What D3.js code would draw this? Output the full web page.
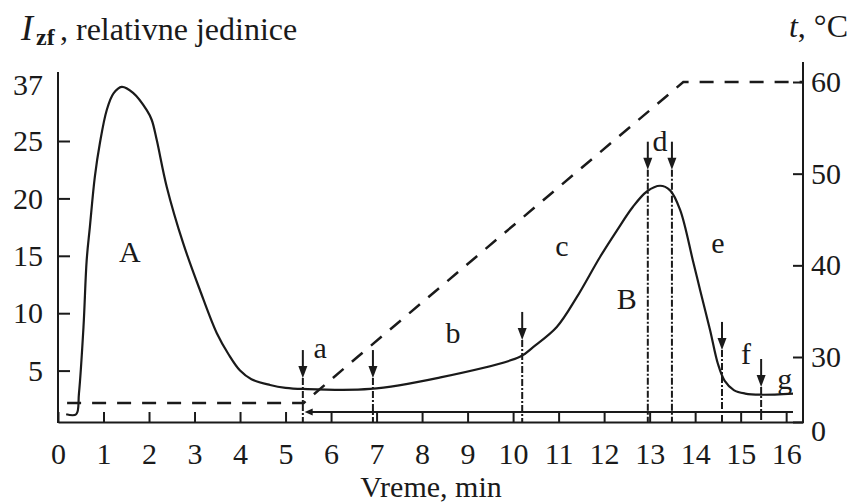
<!DOCTYPE html>
<html>
<head>
<meta charset="utf-8">
<script src="https://cdn.jsdelivr.net/npm/d3@7"></script>
<style>
    body { margin: 0; background: #fff; }
    svg text { font-family: 'Liberation Serif', 'Times New Roman', serif; fill: #1a1a1a; }
</style>
</head>
<body>
<svg id="chart"></svg>
<script>
// intensity curve (time in min, relative units)
const curve_time  = [0.18, 0.40, 0.46, 0.56, 0.63, 0.70, 0.81, 0.92, 1.07, 1.22, 1.40, 1.65, 1.95, 2.06, 2.17, 2.39, 2.75, 3.12, 3.49, 3.75, 4.00, 4.25, 4.66, 5.00, 5.38, 6.86, 8.33, 10.15, 10.44, 10.96, 11.40, 11.91, 12.28, 12.63, 12.94, 13.23, 13.45, 13.67, 13.95, 14.11, 14.33, 14.50, 14.65, 14.85, 15.10, 15.43, 16.15];
const curve_value = [1.2, 1.2, 3.0, 8.8, 14.6, 17.5, 21.9, 24.8, 31.6, 35.2, 36.6, 35.3, 31.6, 29.5, 25.2, 21.0, 16.1, 12.0, 8.25, 6.4, 5.0, 4.25, 3.75, 3.5, 3.4, 3.4, 4.35, 6.2, 7.05, 8.8, 11.4, 14.9, 17.2, 19.25, 20.6, 21.1, 20.7, 19.0, 14.6, 12.0, 8.5, 5.6, 4.1, 3.3, 3.0, 2.9, 3.0];

// temperature program (right axis, degC)
const temp_time  = [0.2, 5.4, 6.58, 13.74, 16.37];
const temp_value = [8.8, 8.8, 30, 60, 60];

// marked moments: arrow position and where the arrow tip sits (left axis units)
const arrow_time = [5.38, 6.92, 10.2, 12.96, 13.49, 14.59, 15.45];
const arrow_tip  = [4.35, 4.35, 7.67, 22.5, 22.5, 6.8, 3.57];

// region letters
const region_text  = ['A', 'a', 'b', 'c', 'd', 'B', 'e', 'f', 'g'];
const region_time  = [1.58, 5.76, 8.68, 11.07, 13.23, 12.5, 14.5, 15.12, 15.97];
const region_value = [15.4, 7.0, 8.3, 15.9, 25.2, 11.3, 16.2, 6.5, 4.35];

// time bar below the curve
const bar_start = 5.42;
const bar_end = 16.15;

// ticks
const bottom_ticks = [0, 1, 2, 3, 4, 5, 6, 7, 8, 9, 10, 11, 12, 13, 14, 15, 16];
const left_ticks = [5, 10, 15, 20, 25, 37];
const right_ticks = [0, 30, 40, 50, 60];

class ProfileChart {

    constructor( config ) {
        this.config = {
            parent: config.parent,
            width: config.width || 850,
            height: config.height || 503,
            fontsize: config.fontsize || '30px'
        }
        this.init();
    }

    init() {
        let self = this;

        self.svg = d3.select( self.config.parent )
            .attr('width', self.config.width)
            .attr('height', self.config.height);

        // plot box
        self.left = 58;
        self.right = 803;
        self.bottom = 422;

        self.xscale = d3.scaleLinear()
            .domain( [0, 16.37] )
            .range( [self.left, self.right] );

        // both y axes are broken in the original figure
        self.yleft = d3.scaleLinear()
            .domain( [0, 25, 37] )
            .range( [428, 141, 85] );

        self.yright = d3.scaleLinear()
            .domain( [0, 30, 60] )
            .range( [self.bottom, 357, 82] );

        self.render();
    }

    render() {
        let self = this;
        const ink = '#1a1a1a';

        // axes
        const xaxis = d3.axisBottom( self.xscale )
            .tickValues( bottom_ticks )
            .tickSizeInner(-10)
            .tickSizeOuter(0)
            .tickPadding(21);

        const laxis = d3.axisLeft( self.yleft )
            .tickValues( left_ticks )
            .tickSizeInner(-12)
            .tickSizeOuter(0)
            .tickPadding(15);

        const raxis = d3.axisRight( self.yright )
            .tickValues( right_ticks )
            .tickSizeInner(-10)
            .tickSizeOuter(0)
            .tickPadding(8);

        const xg = self.svg.append('g')
            .attr('transform', `translate(0, ${self.bottom})`)
            .call( xaxis );

        const lg = self.svg.append('g')
            .attr('transform', `translate(${self.left}, 0)`)
            .call( laxis );
        lg.select('.domain').remove();
        lg.selectAll('.tick').filter(d => d === 37).select('line').remove();

        const rg = self.svg.append('g')
            .attr('transform', `translate(${self.right}, 0)`)
            .call( raxis );
        rg.select('.domain').remove();
        rg.selectAll('.tick').filter(d => d === 0).select('text').attr('dy', '0.6em');

        [xg, lg, rg].forEach(g => {
            g.selectAll('line, path').attr('stroke', ink).attr('stroke-width', 2);
            g.selectAll('text')
                .style('font-size', self.config.fontsize)
                .attr('fill', ink)
                .attr('font-family', null);
        });

        // vertical axis lines
        self.svg.append('line')
            .attr('x1', self.left).attr('x2', self.left)
            .attr('y1', self.bottom + 1).attr('y2', 72)
            .attr('stroke', ink).attr('stroke-width', 2);

        self.svg.append('line')
            .attr('x1', self.right).attr('x2', self.right)
            .attr('y1', self.bottom + 1).attr('y2', 62)
            .attr('stroke', ink).attr('stroke-width', 2);

        // time bar with arrow at its start
        const bar_y = self.bottom - 10;
        self.svg.append('line')
            .attr('x1', self.xscale(bar_start) + 6).attr('x2', self.xscale(bar_end))
            .attr('y1', bar_y).attr('y2', bar_y)
            .attr('stroke', ink).attr('stroke-width', 2);

        const bx = self.xscale(bar_start);
        self.svg.append('path')
            .attr('d', `M${bx},${bar_y} l8,-3.5 l0,7 Z`)
            .attr('fill', ink);

        // temperature, dashed
        const tline = d3.line()
            .x((d, i) => self.xscale( temp_time[i] ))
            .y(d => self.yright( d ));

        self.svg.append('path')
            .attr('d', tline( temp_value ))
            .attr('fill', 'none')
            .attr('stroke', ink)
            .attr('stroke-width', 2.5)
            .attr('stroke-dasharray', '14,11');

        // intensity curve
        const cline = d3.line()
            .x((d, i) => self.xscale( curve_time[i] ))
            .y(d => self.yleft( d ))
            .curve( d3.curveCatmullRom.alpha(0.5) );

        self.svg.append('path')
            .attr('d', cline( curve_value ))
            .attr('fill', 'none')
            .attr('stroke', ink)
            .attr('stroke-width', 2.2);

        // markers: dash-dot drop line + arrow
        const marks = self.svg.append('g');
        arrow_time.forEach((t, i) => {
            const ax = self.xscale(t);
            const tip = self.yleft( arrow_tip[i] );

            marks.append('line')
                .attr('x1', ax).attr('x2', ax)
                .attr('y1', tip).attr('y2', self.bottom)
                .attr('stroke', ink)
                .attr('stroke-width', 2)
                .attr('stroke-dasharray', '7,2,2,2');

            marks.append('line')
                .attr('x1', ax).attr('x2', ax)
                .attr('y1', tip - 28).attr('y2', tip - 8)
                .attr('stroke', ink)
                .attr('stroke-width', 2);

            marks.append('path')
                .attr('d', `M${ax},${tip} l-4.5,-12 l9,0 Z`)
                .attr('fill', ink);
        });

        // region letters
        self.svg.append('g').selectAll('text')
            .data( region_text )
            .join('text')
            .attr('x', (d, i) => self.xscale( region_time[i] ))
            .attr('y', (d, i) => self.yleft( region_value[i] ))
            .attr('dy', '0.35em')
            .attr('text-anchor', 'middle')
            .style('font-size', self.config.fontsize)
            .text(d => d);

        // axis titles
        const ytitle = self.svg.append('text')
            .attr('y', 40)
            .style('font-size', '32px');
        ytitle.append('tspan').attr('x', 21).attr('font-style', 'italic').style('font-size', '36px').text('I');
        ytitle.append('tspan').attr('x', 36).attr('font-weight', 'bold').attr('dy', 5).style('font-size', '24px').text('zf');
        ytitle.append('tspan').attr('x', 60).attr('dy', -5).text(', relativne jedinice');

        const rtitle = self.svg.append('text')
            .attr('x', 848)
            .attr('y', 37)
            .attr('text-anchor', 'end')
            .style('font-size', '32px');
        rtitle.append('tspan').attr('font-style', 'italic').text('t');
        rtitle.append('tspan').text(', °C');

        self.svg.append('text')
            .attr('x', 431)
            .attr('y', 497)
            .attr('text-anchor', 'middle')
            .style('font-size', self.config.fontsize)
            .text('Vreme, min');
    }
}

const chart = new ProfileChart({ parent: '#chart', width: 850, height: 503 });
</script>
</body>
</html>
